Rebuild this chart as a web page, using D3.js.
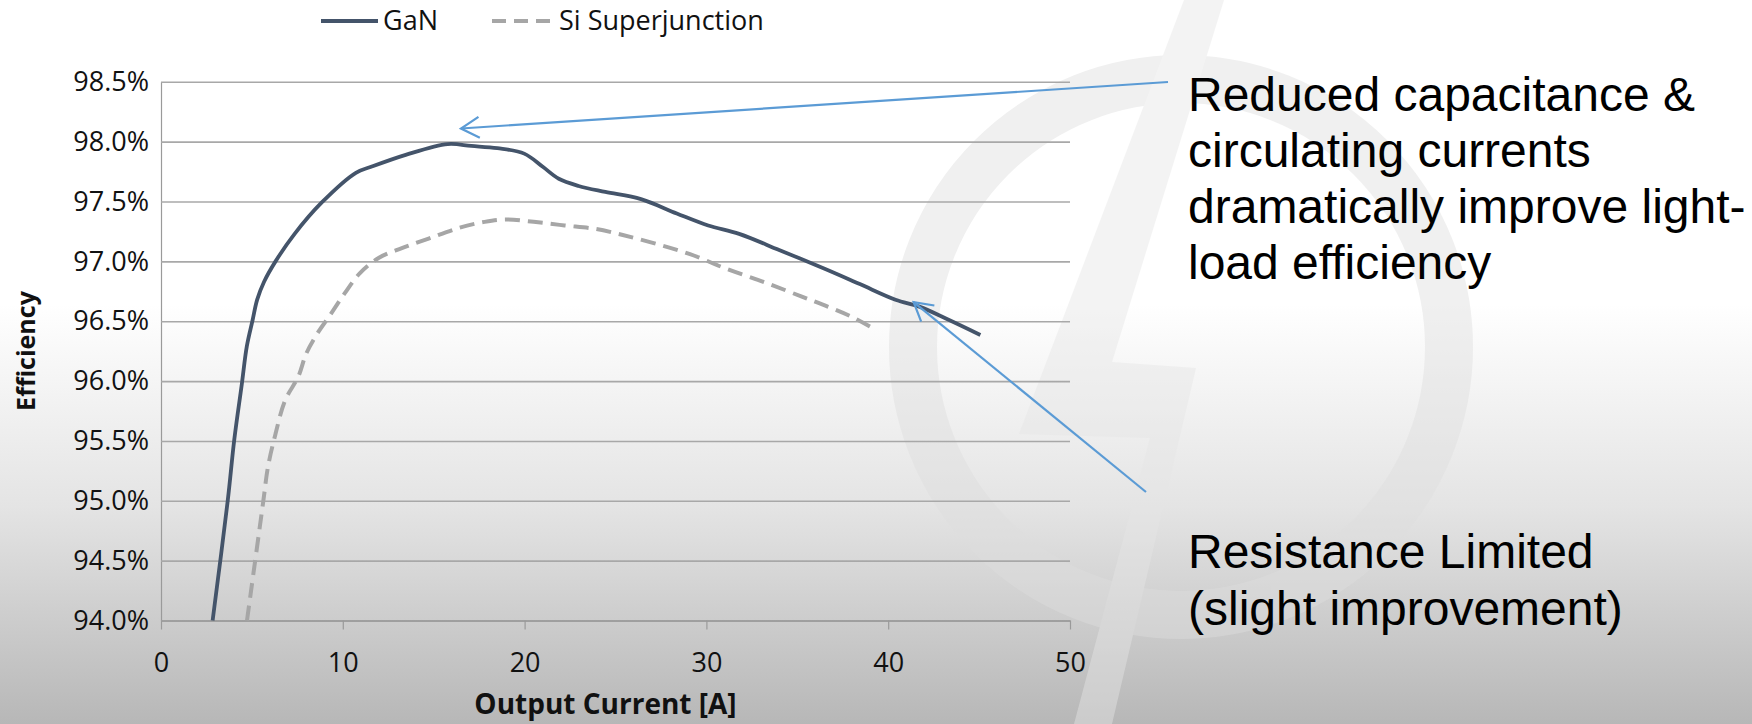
<!DOCTYPE html>
<html>
<head>
<meta charset="utf-8">
<script src="https://d3js.org/d3.v7.min.js"></script>
<style>
  body { margin: 0; overflow: hidden; background: #fff; }
  svg { display: block; }
</style>
</head>
<body>
<svg id="chart" width="1752" height="724"></svg>
<script>
// values
var seriesNames = ["GaN", "Si Superjunction"];

var ganCurrent = [2.84, 3.67, 4.03, 4.45, 4.72, 5.04, 5.29, 5.67, 6.3, 7.35, 8.83, 10.72, 11.56, 13.46, 15.77,
                  17.07, 18.5, 19.98, 21.0, 21.88, 22.97, 24.44, 26.4, 28.37, 30.1, 31.8, 34.0, 36.47, 38.44,
                  40.4, 41.75, 43.35, 45.07];
var ganEff = [94.0, 95.0, 95.51, 95.98, 96.29, 96.51, 96.68, 96.83, 97.0, 97.23, 97.49, 97.74, 97.79, 97.89, 97.98,
              97.964, 97.945, 97.90, 97.79, 97.69, 97.63, 97.58, 97.52, 97.40, 97.30, 97.23, 97.095, 96.94, 96.81,
              96.68, 96.62, 96.51, 96.385];

var siCurrent = [4.73, 5.63, 5.88, 6.3, 6.83, 7.56, 7.99, 8.61, 9.25, 10.09, 10.93, 11.99, 13.25, 14.72, 16.4,
                 17.8, 18.93, 20.5, 22.2, 23.95, 25.4, 27.15, 29.1, 31.07, 33.3, 35.25, 36.7, 37.95, 39.3];
var siEff = [94.0, 95.0, 95.28, 95.56, 95.84, 96.04, 96.23, 96.40, 96.54, 96.73, 96.90, 97.03, 97.11, 97.19, 97.28,
             97.33, 97.35, 97.33, 97.30, 97.27, 97.22, 97.15, 97.06, 96.94, 96.82, 96.705, 96.62, 96.54, 96.43];

var xTicks = [0, 10, 20, 30, 40, 50];
var yTicks = [94.0, 94.5, 95.0, 95.5, 96.0, 96.5, 97.0, 97.5, 98.0, 98.5];

var noteTop = ["Reduced capacitance &", "circulating currents", "dramatically improve light-", "load efficiency"];
var noteBottom = ["Resistance Limited", "(slight improvement)"];
// points on the chart the two arrows aim at (current, efficiency)
var arrowTargets = [[16.5, 98.11], [41.4, 96.66]];

var svg = d3.select("#chart");
var W = 1752, H = 724;

// slide background
var defs = svg.append("defs");
var grad = defs.append("linearGradient").attr("id", "bg").attr("x1", 0).attr("y1", 0).attr("x2", 0).attr("y2", 1);
grad.append("stop").attr("offset", "0%").attr("stop-color", "#ffffff");
grad.append("stop").attr("offset", "42%").attr("stop-color", "#ffffff");
grad.append("stop").attr("offset", "70%").attr("stop-color", "#e4e4e4");
grad.append("stop").attr("offset", "100%").attr("stop-color", "#b7b7b7");
svg.append("rect").attr("width", W).attr("height", H).attr("fill", "url(#bg)");

// faint logo watermark
var wm = svg.append("g").attr("opacity", 0.45);
wm.append("circle")
  .attr("cx", 1181).attr("cy", 347).attr("r", 268)
  .attr("fill", "none").attr("stroke", "#dedede").attr("stroke-width", 48);
wm.append("path")
  .attr("d", "M1184,0 L1224,0 L1112,362 L1196,368 L1112,724 L1074,724 L1150,438 L1019,434 Z")
  .attr("fill", "#e6e6e6");

var x = d3.scaleLinear().domain([0, 50]).range([161, 1070]);
var y = d3.scaleLinear().domain([94, 98.5]).range([620.5, 81.8]);

var tickFont = "'Open Sans', 'Noto Sans', sans-serif";

// y axis with gridlines
var yAxis = svg.append("g")
  .attr("transform", "translate(" + x(0) + ",0)")
  .call(d3.axisLeft(y).tickValues(yTicks)
    .tickSize(-(x(50) - x(0))).tickSizeOuter(0).tickPadding(12)
    .tickFormat(function(d) { return d3.format(".1f")(d) + "%"; }));
yAxis.select(".domain").attr("stroke", "#9a9a9a").attr("stroke-width", 1.2);
yAxis.selectAll(".tick line").attr("stroke", "#a8a8a8").attr("stroke-width", 1.6);
yAxis.selectAll(".tick text")
  .style("font-family", tickFont).style("font-size", "27px").attr("fill", "#111");

// x axis
var xAxis = svg.append("g")
  .attr("transform", "translate(0," + y(94) + ")")
  .call(d3.axisBottom(x).tickValues(xTicks).tickSize(9).tickSizeOuter(0).tickPadding(23));
xAxis.select(".domain").attr("stroke", "#9a9a9a").attr("stroke-width", 1.6);
xAxis.selectAll(".tick line").attr("stroke", "#9a9a9a").attr("stroke-width", 1.2);
xAxis.selectAll(".tick text")
  .style("font-family", tickFont).style("font-size", "27px").attr("fill", "#111");

// axis titles
svg.append("text")
  .attr("x", (x(0) + x(50)) / 2 - 10).attr("y", 714)
  .attr("text-anchor", "middle")
  .style("font-family", tickFont).style("font-size", "28px").style("font-weight", "bold")
  .attr("fill", "#111").text("Output Current [A]");
svg.append("text")
  .attr("transform", "translate(35," + 351 + ") rotate(-90)")
  .attr("text-anchor", "middle")
  .style("font-family", tickFont).style("font-size", "25px").style("font-weight", "bold")
  .attr("fill", "#111").text("Efficiency");

// series
var line = d3.line()
  .x(function(d) { return x(d[0]); })
  .y(function(d) { return y(d[1]); })
  .curve(d3.curveCatmullRom.alpha(0.5));

var siPts = d3.zip(siCurrent, siEff);
var ganPts = d3.zip(ganCurrent, ganEff);

svg.append("path").datum(siPts)
  .attr("d", line).attr("fill", "none")
  .attr("stroke", "#a6a6a6").attr("stroke-width", 4)
  .attr("stroke-dasharray", "15,8");
svg.append("path").datum(ganPts)
  .attr("d", line).attr("fill", "none")
  .attr("stroke", "#44546a").attr("stroke-width", 3.8)
  .attr("stroke-linejoin", "round");

// legend
var legend = svg.append("g").attr("transform", "translate(0,21)");
var legendItems = [
  { name: seriesNames[0], x0: 321, x1: 378, color: "#44546a", dash: null },
  { name: seriesNames[1], x0: 492, x1: 554, color: "#a6a6a6", dash: "14,8" }
];
legendItems.forEach(function(it) {
  legend.append("line")
    .attr("x1", it.x0).attr("x2", it.x1).attr("y1", 0).attr("y2", 0)
    .attr("stroke", it.color).attr("stroke-width", 4)
    .attr("stroke-dasharray", it.dash);
  legend.append("text")
    .attr("x", it.x1 + 5).attr("y", 0).attr("dy", "0.35em")
    .style("font-family", tickFont).style("font-size", "27px")
    .attr("fill", "#111").text(it.name);
});

// annotations
var noteFont = "'Liberation Sans', Arial, sans-serif";
svg.append("g").selectAll("text").data(noteTop).join("text")
  .attr("x", 1188).attr("y", function(d, i) { return 111 + i * 56; })
  .style("font-family", noteFont).style("font-size", "48px")
  .attr("fill", "#000").text(function(d) { return d; });
svg.append("g").selectAll("text").data(noteBottom).join("text")
  .attr("x", 1188).attr("y", function(d, i) { return 568 + i * 57; })
  .style("font-family", noteFont).style("font-size", "48px")
  .attr("fill", "#000").text(function(d) { return d; });

function arrow(from, to) {
  var g = svg.append("g").attr("stroke", "#5b9bd5").attr("stroke-width", 2.2).attr("fill", "none");
  g.append("line").attr("x1", from[0]).attr("y1", from[1]).attr("x2", to[0]).attr("y2", to[1]);
  var ang = Math.atan2(from[1] - to[1], from[0] - to[0]);
  var len = 21, spread = 0.52;
  var p = [
    [to[0] + len * Math.cos(ang - spread), to[1] + len * Math.sin(ang - spread)],
    to,
    [to[0] + len * Math.cos(ang + spread), to[1] + len * Math.sin(ang + spread)]
  ];
  g.append("path").attr("d", d3.line()(p)).attr("stroke-linejoin", "miter");
}
arrow([1168, 82], [x(arrowTargets[0][0]), y(arrowTargets[0][1])]);
arrow([1146, 492], [x(arrowTargets[1][0]), y(arrowTargets[1][1])]);
</script>
</body>
</html>
